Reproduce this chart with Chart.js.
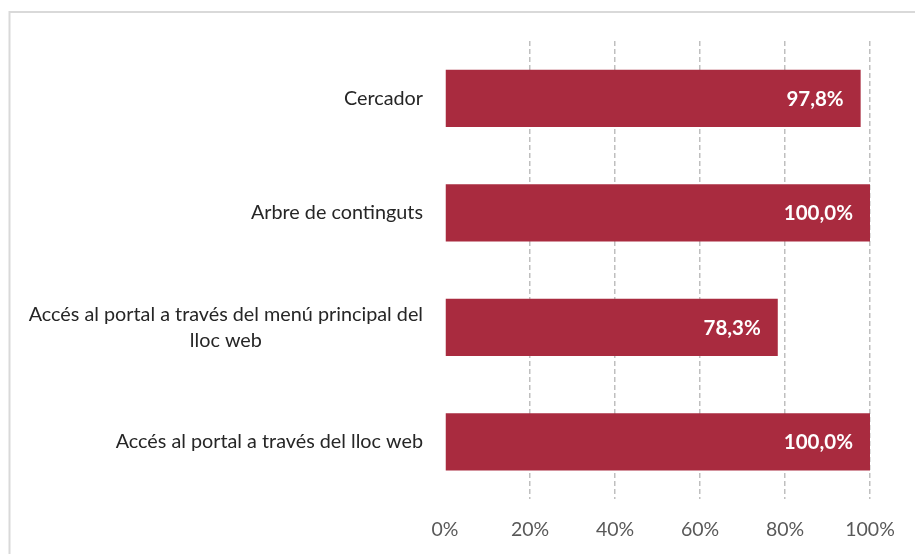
<!DOCTYPE html>
<html>
<head>
<meta charset="utf-8">
<script src="https://cdn.jsdelivr.net/npm/chart.js@4.4.1/dist/chart.umd.min.js"></script>
<style>
html,body{margin:0;padding:0;background:#fff;}
#wrap{width:915px;height:554px;position:relative;}
</style>
</head>
<body>
<div id="wrap"><canvas id="c" width="915" height="554"></canvas></div>
<script>
const categories = [
  ["Cercador"],
  ["Arbre de continguts"],
  ["Accés al portal a través del menú principal del", "lloc web"],
  ["Accés al portal a través del lloc web"]
];
const values = [97.8, 100.0, 78.3, 100.0];
const tickValues = [0, 20, 40, 60, 80, 100];

const BAR = '#A92B3F';
const FONT = 'Lato, "Open Sans", sans-serif';

const framePlugin = {
  id: 'frame',
  beforeDraw(chart) {
    const ctx = chart.ctx;
    ctx.save();
    ctx.strokeStyle = '#D9D9D9';
    ctx.lineWidth = 2;
    ctx.strokeRect(9.5, 12, 1000, 1000);
    ctx.restore();
  }
};

const labelsPlugin = {
  id: 'customLabels',
  afterDatasetsDraw(chart) {
    const ctx = chart.ctx;
    const y = chart.scales.y;
    const x = chart.scales.x;
    ctx.save();
    ctx.font = '19.8px ' + FONT;
    ctx.fillStyle = '#262626';
    ctx.textBaseline = 'middle';
    ctx.textAlign = 'center';
    const rightEdge = 423;
    const lh = 26;
    categories.forEach((lines, i) => {
      const cy = y.getPixelForValue(i);
      let w = 0;
      lines.forEach(l => { w = Math.max(w, ctx.measureText(l).width); });
      const cx = rightEdge - w / 2;
      const startY = cy - (lines.length - 1) * lh / 2;
      lines.forEach((l, k) => ctx.fillText(l, cx, startY + k * lh));
    });
    ctx.font = 'bold 20.5px ' + FONT;
    ctx.fillStyle = '#FFFFFF';
    ctx.textAlign = 'right';
    values.forEach((v, i) => {
      const px = x.getPixelForValue(v) - 17;
      const py = y.getPixelForValue(i) + 1;
      ctx.fillText(v.toFixed(1).replace('.', ',') + '%', px, py);
    });
    ctx.restore();
  }
};

new Chart(document.getElementById('c'), {
  type: 'bar',
  data: {
    labels: categories,
    datasets: [{
      data: values,
      backgroundColor: BAR,
      borderWidth: 0,
      barPercentage: 0.5,
      categoryPercentage: 1.0
    }]
  },
  options: {
    indexAxis: 'y',
    responsive: false,
    animation: false,
    devicePixelRatio: 1,
    layout: { padding: { left: 445, right: 45, top: 41, bottom: 0 } },
    plugins: { legend: { display: false }, tooltip: { enabled: false } },
    scales: {
      y: {
        display: false
      },
      x: {
        min: 0,
        max: 100,
        afterBuildTicks(scale) {
          scale.ticks = tickValues.map(v => ({ value: v }));
        },
        afterFit(scale) { scale.height = 55; },
        grid: {
          color: ctx => (ctx.tick && ctx.tick.value === 0) ? 'rgba(0,0,0,0)' : '#BFBFBF',
          lineWidth: 1.5,
          drawTicks: false
        },
        border: { display: false, dash: [5, 3] },
        ticks: {
          padding: 19,
          color: '#595959',
          font: { family: FONT, size: 19.5 },
          callback: v => v + '%'
        }
      }
    }
  },
  plugins: [framePlugin, labelsPlugin]
});
</script>
</body>
</html>
